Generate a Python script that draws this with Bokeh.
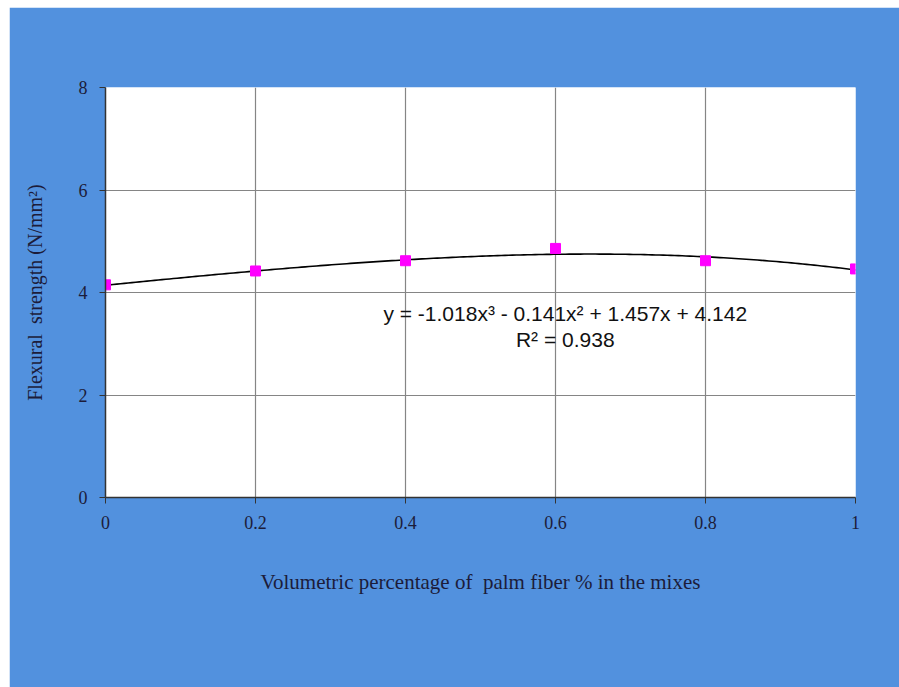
import numpy as np
from bokeh.plotting import figure
from bokeh.models import Range1d, FixedTicker, Label
from bokeh.embed import file_html
from bokeh.resources import INLINE

fiber_pct = [0.0, 0.2, 0.4, 0.6, 0.8, 1.0]
flexural = [4.15, 4.42, 4.62, 4.86, 4.62, 4.46]
trend_coeffs = [-1.018, -0.141, 1.457, 4.142]
x_ticks = [0, 0.2, 0.4, 0.6, 0.8, 1.0]
y_ticks = [0, 2, 4, 6, 8]

W, H = 890, 680
p = figure(width=W, height=H, output_backend="svg", toolbar_location=None,
           x_range=Range1d(0, 1), y_range=Range1d(0, 8),
           min_border_left=96, min_border_right=44, min_border_top=80, min_border_bottom=190)
p.margin = (7, 0, 0, 9)
p.background_fill_color = "white"
p.border_fill_color = "#5291DE"
p.outline_line_color = None

serif = "Liberation Serif"
tick_color = "#1c1c3a"
for ax in (p.xaxis[0], p.yaxis[0]):
    ax.axis_line_color = "#333333"
    ax.axis_line_width = 1.5
    ax.major_tick_line_color = "#333333"
    ax.major_tick_out = 6
    ax.major_tick_in = 0
    ax.minor_tick_line_color = None
    ax.major_label_text_font = serif
    ax.major_label_text_font_size = "18px"
    ax.major_label_text_color = tick_color
    ax.axis_label_text_font = serif
    ax.axis_label_text_font_style = "normal"
    ax.axis_label_text_color = tick_color

p.xaxis.ticker = FixedTicker(ticks=x_ticks)
p.yaxis.ticker = FixedTicker(ticks=y_ticks)
p.xaxis.major_label_overrides = {0: "0", 0.2: "0.2", 0.4: "0.4", 0.6: "0.6", 0.8: "0.8", 1.0: "1"}
p.xaxis.major_label_standoff = 12
p.yaxis.major_label_standoff = 12
p.xaxis.axis_label = "Volumetric percentage of\u00a0 palm fiber % in the mixes"
p.xaxis.axis_label_text_font_size = "21px"
p.xaxis.axis_label_standoff = 38
p.yaxis.axis_label = "Flexural\u00a0 strength (N/mm²)"
p.yaxis.axis_label_text_font_size = "20px"
p.yaxis.axis_label_standoff = 30

p.grid.grid_line_color = "#858585"
p.grid.grid_line_width = 1.2

xs = np.linspace(0, 1, 200)
ys = np.polyval(trend_coeffs, xs)
p.line(xs, ys, line_color="black", line_width=1.6)
p.scatter(fiber_pct, flexural, marker="square", size=10, fill_color="#FF00FF", line_color="#FF00FF")

eq = "y = -1.018x³ - 0.141x² + 1.457x + 4.142"
p.add_layout(Label(x=0.613, y=3.6, text=eq, text_align="center", text_baseline="middle",
                   text_font="Liberation Sans", text_font_size="21px", text_color="#111111"))
p.add_layout(Label(x=0.613, y=3.09, text="R² = 0.938", text_align="center", text_baseline="middle",
                   text_font="Liberation Sans", text_font_size="21px", text_color="#111111"))

open("out.html", "w").write(file_html(p, INLINE))
